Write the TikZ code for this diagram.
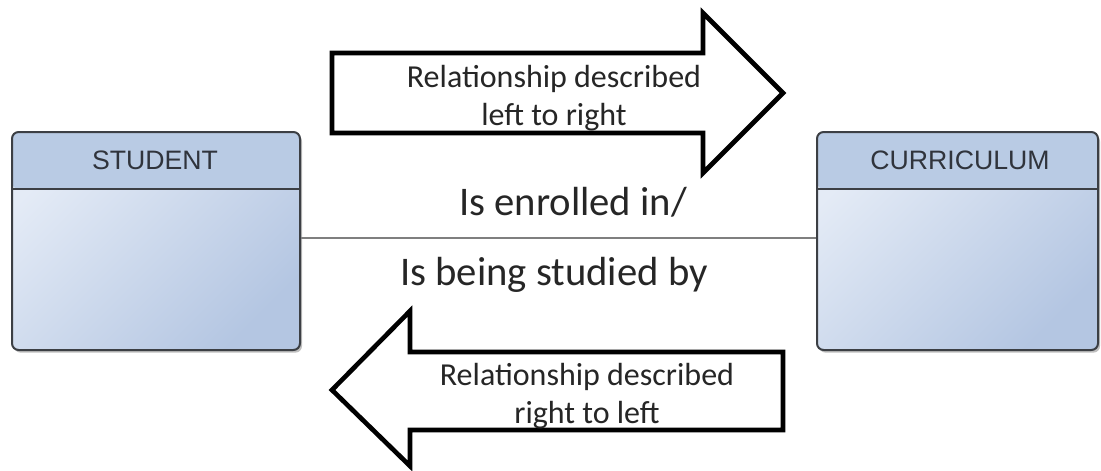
\documentclass[tikz,border=0pt]{standalone}
\usepackage{fontspec}
\setmainfont{Carlito}
\newfontfamily\titlefont{Liberation Sans}
\usepackage{tikz}
\usetikzlibrary{shadows}
\usetikzlibrary{positioning, arrows.meta}
\usepackage{xcolor}

\definecolor{boxline}{HTML}{3C3F44}
\definecolor{headfill}{HTML}{B9CBE4}
\definecolor{bodylight}{HTML}{E4EBF6}
\definecolor{bodydark}{HTML}{B4C6E2}
\definecolor{linkgray}{HTML}{7F7F7F}
\definecolor{textgray}{HTML}{262626}
\definecolor{titlegray}{HTML}{30343C}

\begin{document}
\begin{tikzpicture}[x=0.75pt, y=-0.75pt,
    entity/.style={draw=boxline, line width=1.5pt, rounded corners=5pt,
        top color=bodylight, bottom color=bodydark, shading angle=45,
        minimum height=163.5pt, inner sep=0pt,
        drop shadow={shadow xshift=1.5pt, shadow yshift=-2pt, opacity=0.25, fill=black},
        path picture={
            \fill[headfill] (path picture bounding box.north west) rectangle ([yshift=-42.75pt]path picture bounding box.north east);
            \draw[boxline, line width=1.5pt] ([yshift=-42.75pt]path picture bounding box.north west) -- ([yshift=-42.75pt]path picture bounding box.north east);
        }},
    title/.style={font=\titlefont\fontsize{20}{24}\selectfont, text=titlegray},
    rel/.style={font=\fontsize{30.5}{36}\selectfont, text=textgray, inner sep=0pt, anchor=base},
    bigarrow/.style={draw=black, line width=3.5pt, fill=white, line join=miter},
    note/.style={font=\fontsize{24}{29}\selectfont, text=textgray, align=center, inner sep=0pt},
    link/.style={draw=linkgray, line width=1.5pt}]

    \useasboundingbox (0,0) rectangle (1101,471);

    % Entities
    \node[entity, minimum width=216pt] (student) at (156,241) {};
    \node[entity, minimum width=210.75pt] (curriculum) at (957.5,241) {};

    \node[title] (studentname) at (155,160) {STUDENT};
    \node[title] (curriculumname) at (960,160) {CURRICULUM};

    % Relationship line with both readings
    \draw[link] ([yshift=2.25pt]student.east) -- ([yshift=2.25pt]curriculum.west);
    \node[rel] (forward) at (573,215) {Is enrolled in/};
    \node[rel] (backward) at (554,285) {Is being studied by};

    % Direction arrows
    \draw[bigarrow] (332,53) -- (703,53) -- (703,13) -- (783,93) -- (703,173) -- (703,133) -- (332,133) -- cycle;
    \node[note] (lefttoright) at (554,98) {Relationship described\\left to right};

    \draw[bigarrow] (783,352) -- (410,352) -- (410,311) -- (332,390) -- (410,466) -- (410,430) -- (783,430) -- cycle;
    \node[note] (righttoleft) at (587,396) {Relationship described\\right to left};

\end{tikzpicture}
\end{document}
